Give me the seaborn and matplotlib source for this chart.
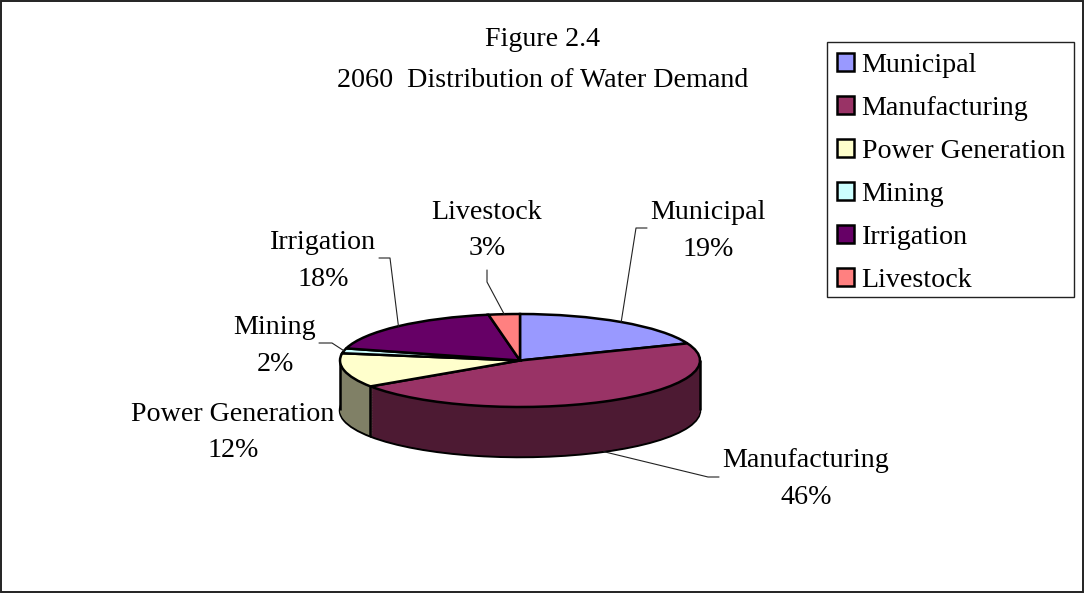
import numpy as np
import seaborn as sns
import matplotlib.pyplot as plt
from matplotlib.patches import Rectangle

categories = ['Municipal', 'Manufacturing', 'Power Generation', 'Mining', 'Irrigation', 'Livestock']
slice_sizes = [19.0, 46.6, 11.9, 1.7, 18.0, 2.8]
pct_labels = ['19%', '46%', '12%', '2%', '18%', '3%']
hex_colors = ['#9999FF', '#993366', '#FFFFCC', '#CCFFFF', '#660066', '#FF8080']
title_lines = ['Figure 2.4', '2060  Distribution of Water Demand']

sns.set_theme(style='white')
plt.rcParams['font.family'] = ['Liberation Serif', 'DejaVu Serif']
plt.rcParams['text.color'] = 'black'

W, H = 1084, 593
FS = 20.2
EDGE = 1.8

# pie geometry in pixels
CX, CY, RX, RY, DEPTH = 520, 360.5, 180, 46.5, 50

colors = sns.color_palette(hex_colors)
side_colors = [tuple(c * 0.5 for c in col) for col in colors]

fig = plt.figure(figsize=(W / 100, H / 100), dpi=100)
bg = fig.add_axes([0, 0, 1, 1])
bg.set_xlim(0, W)
bg.set_ylim(H, 0)
bg.axis('off')
bg.add_patch(Rectangle((1, 1), 1081.5, 590.5, fill=False, ec='#222222', lw=1.4))
bg.add_patch(Rectangle((827, 42), 247, 255, fill=False, ec='#222222', lw=1.0))

# pie axes: one data unit is RX px across and RY px down
pad_x, pad_y = 0.1, 0.3
d = DEPTH / RY
left = (CX - RX * (1 + pad_x)) / W
bottom = (H - (CY + RY * (1 + d + pad_y))) / H
width = 2 * RX * (1 + pad_x) / W
height = RY * (2 + d + 2 * pad_y) / H
ax = fig.add_axes([left, bottom, width, height])
ax.patch.set_alpha(0)

# side wall: stacked copies of the pie
for off in np.linspace(d, 0, 70):
    lw = EDGE if off == d else 0
    ax.pie(slice_sizes, colors=side_colors, startangle=90, counterclock=False,
           center=(0, -off), wedgeprops=dict(ec='black', lw=lw))

# wall edges, from the slice boundaries
ends = np.cumsum(slice_sizes) / sum(slice_sizes) * 2 * np.pi
for x0 in [-1, 1, np.sin(ends[1])]:
    y0 = 0 if abs(x0) == 1 else np.cos(ends[1])
    ax.plot([x0, x0], [y0, y0 - d], color='black', lw=EDGE, zorder=5, solid_capstyle='butt')

top, _ = ax.pie(slice_sizes, colors=colors, startangle=90, counterclock=False,
                wedgeprops=dict(ec='black', lw=EDGE, zorder=6))
ax.set_aspect('auto')
ax.set_xlim(-1 - pad_x, 1 + pad_x)
ax.set_ylim(-1 - d - pad_y, 1 + pad_y)
ax.axis('off')

# title
bg.text(543, 39.5, title_lines[0], ha='center', va='center', fontsize=FS)
bg.text(543, 80.5, title_lines[1], ha='center', va='center', fontsize=FS)

# data labels: centre of text block, elbow, end of stub
label_pos = [(708, 231), (806, 479), (233, 432.5), (275, 346), (323, 261), (487, 230.5)]
elbows = [(636, 228), (708, 477), None, (332, 343), (390, 258), (487, 282)]
stubs = [(647, 228), (719, 477), None, (319, 343), (379, 258), (487, 270)]

mids = (np.cumsum(slice_sizes) - np.array(slice_sizes) / 2) / sum(slice_sizes) * 2 * np.pi
for i, name in enumerate(categories):
    bg.text(label_pos[i][0], label_pos[i][1], name + '\n' + pct_labels[i], ha='center', va='center',
            fontsize=FS, linespacing=1.6, zorder=8)
    if elbows[i] is None:
        continue
    ax_x = CX + RX * np.sin(mids[i])
    ax_y = CY - RY * np.cos(mids[i])
    if np.cos(mids[i]) < 0:
        ax_y += DEPTH
    bg.plot([stubs[i][0], elbows[i][0], ax_x], [stubs[i][1], elbows[i][1], ax_y],
            color='#222222', lw=0.8)

leg = bg.legend(top, categories, loc='upper left', bbox_to_anchor=(827 / W, 1 - 43 / H),
                bbox_transform=fig.transFigure, fontsize=FS, frameon=False,
                borderpad=0.36, borderaxespad=0,
                handlelength=0.6, handleheight=0.6, handletextpad=0.27, labelspacing=0.64)
leg.set_zorder(10)
bg.set_zorder(3)
ax.set_zorder(2)

fig.savefig('out.png', dpi=100, facecolor='white')
